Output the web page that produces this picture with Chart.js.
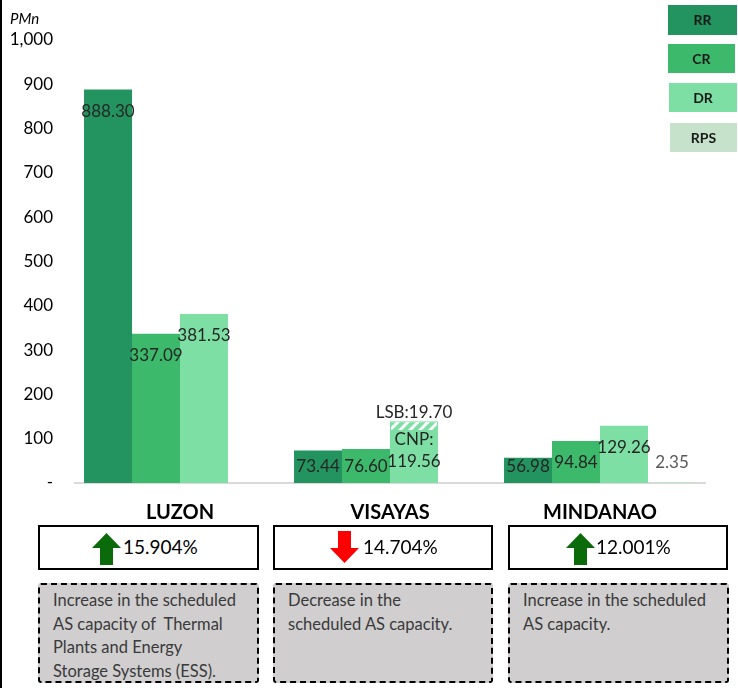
<!DOCTYPE html>
<html>
<head>
<meta charset="utf-8">
<script src="https://cdn.jsdelivr.net/npm/chart.js@4.4.0/dist/chart.umd.min.js"></script>
<style>
  body { margin: 0; width: 738px; height: 688px; background: #fff; position: relative; overflow: hidden;
         font-family: Lato, 'Liberation Sans', sans-serif; }
  #wrap { position: absolute; left: 0; top: 0; width: 738px; height: 530px; }
  .edge { position: absolute; left: 0; top: 0; width: 2px; height: 688px; background: #000; }
  .unit { position: absolute; left: 10px; top: 9px; font-size: 15px; font-style: italic; color: #000; }
  .leg { position: absolute; font-weight: bold; font-size: 14px; color: #1a1a1a; text-align: center; }
  .pct { position: absolute; top: 525px; height: 45px; border: 2px solid #000; box-sizing: border-box; background: #fff; }
  .pct svg { position: absolute; }
  .pct span { position: absolute; top: 8px; font-size: 19px; line-height: 24px; color: #000; }
  .note { position: absolute; top: 583px; height: 100px; border: 2.5px dashed #000; box-sizing: border-box;
          background: #d0cecf; border-radius: 3px; font-size: 16.5px; line-height: 23.5px; color: #3a3a3a;
          padding: 4px 0 0 13px; }
</style>
</head>
<body>
<div class="edge"></div>
<div id="wrap"><canvas id="asChart" width="738" height="530"></canvas></div>
<div class="unit">PMn</div>

<div class="leg" style="left:668px;top:5px;width:69px;height:30px;line-height:30px;background:#23945f">RR</div>
<div class="leg" style="left:668px;top:44px;width:67px;height:29px;line-height:29px;background:#3cb96b">CR</div>
<div class="leg" style="left:669px;top:83px;width:68px;height:29px;line-height:29px;background:#7ddfa3">DR</div>
<div class="leg" style="left:670px;top:123px;width:67px;height:29px;line-height:29px;background:#c6e2ca">RPS</div>

<div class="pct" style="left:38px;width:221px">
  <svg width="29" height="32" style="left:52px;top:6px"><polygon points="14.5,0 29,15 21,15 21,32 8,32 8,15 0,15" fill="#0b6b0b"/></svg>
  <span style="left:83px">15.904%</span>
</div>
<div class="pct" style="left:273px;width:220px">
  <svg width="29" height="32" style="left:55px;top:4px"><polygon points="8,0 21,0 21,17 29,17 14.5,32 0,17 8,17" fill="#ff0000"/></svg>
  <span style="left:88px">14.704%</span>
</div>
<div class="pct" style="left:508px;width:220px">
  <svg width="29" height="32" style="left:56px;top:6px"><polygon points="14.5,0 29,15 21,15 21,32 8,32 8,15 0,15" fill="#0b6b0b"/></svg>
  <span style="left:86px">12.001%</span>
</div>

<div class="note" style="left:38px;width:221px">Increase in the scheduled<br>AS capacity of&nbsp; Thermal<br>Plants and Energy<br>Storage Systems (ESS).</div>
<div class="note" style="left:273px;width:220px">Decrease in the<br>scheduled AS capacity.</div>
<div class="note" style="left:508px;width:221px">Increase in the scheduled<br>AS capacity.</div>

<script>
// regions and series (PMn)
const regions = ['LUZON', 'VISAYAS', 'MINDANAO'];
const rrValues = [888.30, 73.44, 56.98];
const crValues = [337.09, 76.60, 94.84];
const drValues = [381.53, 119.56, 129.26];   // Visayas DR is the CNP part
const lsbValues = [null, 19.70, null];       // LSB on top of Visayas DR
const rpsValues = [null, null, 2.35];
const yTicks = [0, 100, 200, 300, 400, 500, 600, 700, 800, 900, 1000];

const colors = { RR: '#23945f', CR: '#3cb96b', DR: '#7ddfa3', RPS: '#c6e2ca' };

// white diagonal stripes over DR colour for LSB
function makeHatch() {
    const c = document.createElement('canvas');
    c.width = 10; c.height = 10;
    const g = c.getContext('2d');
    g.fillStyle = colors.DR;
    g.fillRect(0, 0, 10, 10);
    g.strokeStyle = '#fff';
    g.lineWidth = 3;
    g.beginPath();
    g.moveTo(-1, 11); g.lineTo(11, -1);
    g.moveTo(-6, 6); g.lineTo(6, -6);
    g.moveTo(4, 16); g.lineTo(16, 4);
    g.stroke();
    return g.createPattern(c, 'repeat');
}

const barLabels = {
    id: 'barLabels',
    afterDatasetsDraw(chart) {
        const ctx = chart.ctx;
        const base = chart.scales.y.getPixelForValue(0);
        ctx.save();
        ctx.font = '17px Lato';
        ctx.textAlign = 'center';
        ctx.textBaseline = 'middle';
        chart.data.datasets.forEach((ds, di) => {
            const meta = chart.getDatasetMeta(di);
            meta.data.forEach((bar, i) => {
                const v = ds.data[i];
                if (v == null) return;
                const txt = v.toFixed(2);
                ctx.fillStyle = '#262626';
                if (ds.label === 'RPS') {
                    ctx.fillStyle = '#595959';
                    ctx.fillText(txt, bar.x, bar.y - 19);
                } else if (ds.label === 'LSB') {
                    ctx.fillText('LSB:' + txt, bar.x, bar.y - 9);
                } else if (ds.label === 'DR' && lsbValues[i] != null) {
                    ctx.fillText('CNP:', bar.x, bar.y + 9);
                    ctx.fillText(txt, bar.x, bar.y + 31);
                } else {
                    ctx.fillText(txt, bar.x, Math.min(bar.y + 22, base - 16));
                }
            });
        });
        ctx.restore();
    }
};

const ctx = document.getElementById('asChart').getContext('2d');
new Chart(ctx, {
    type: 'bar',
    data: {
        labels: regions,
        datasets: [
            { label: 'RR', data: rrValues, backgroundColor: colors.RR, stack: 'RR' },
            { label: 'CR', data: crValues, backgroundColor: colors.CR, stack: 'CR' },
            { label: 'DR', data: drValues, backgroundColor: colors.DR, stack: 'DR' },
            { label: 'LSB', data: lsbValues, backgroundColor: makeHatch(), borderColor: colors.DR, borderWidth: 1, stack: 'DR' },
            { label: 'RPS', data: rpsValues, backgroundColor: colors.RPS, stack: 'RPS' }
        ]
    },
    options: {
        responsive: false,
        animation: false,
        devicePixelRatio: 1,
        layout: { padding: { top: 40, left: 5, right: 33, bottom: 0 } },
        datasets: { bar: { categoryPercentage: 0.914, barPercentage: 1 } },
        plugins: { legend: { display: false }, tooltip: { enabled: false } },
        scales: {
            x: {
                stacked: true,
                grid: { display: false, drawTicks: false },
                border: { display: true, color: '#d9d9d9', width: 2 },
                ticks: { font: { family: 'Lato', size: 20, weight: 'bold' }, color: '#000', padding: 18 },
                afterFit: s => { s.height = 47; }
            },
            y: {
                stacked: true,
                min: 0,
                max: 1000,
                grid: { display: false, drawTicks: false },
                border: { display: false },
                afterBuildTicks: s => { s.ticks = yTicks.map(v => ({ value: v })); },
                ticks: {
                    font: { family: 'Lato', size: 17 },
                    color: '#000',
                    padding: 22,
                    callback: v => v === 0 ? '-' : v.toLocaleString('en-US')
                },
                afterFit: s => { s.width = 70; }
            }
        }
    },
    plugins: [barLabels]
});
</script>
</body>
</html>
